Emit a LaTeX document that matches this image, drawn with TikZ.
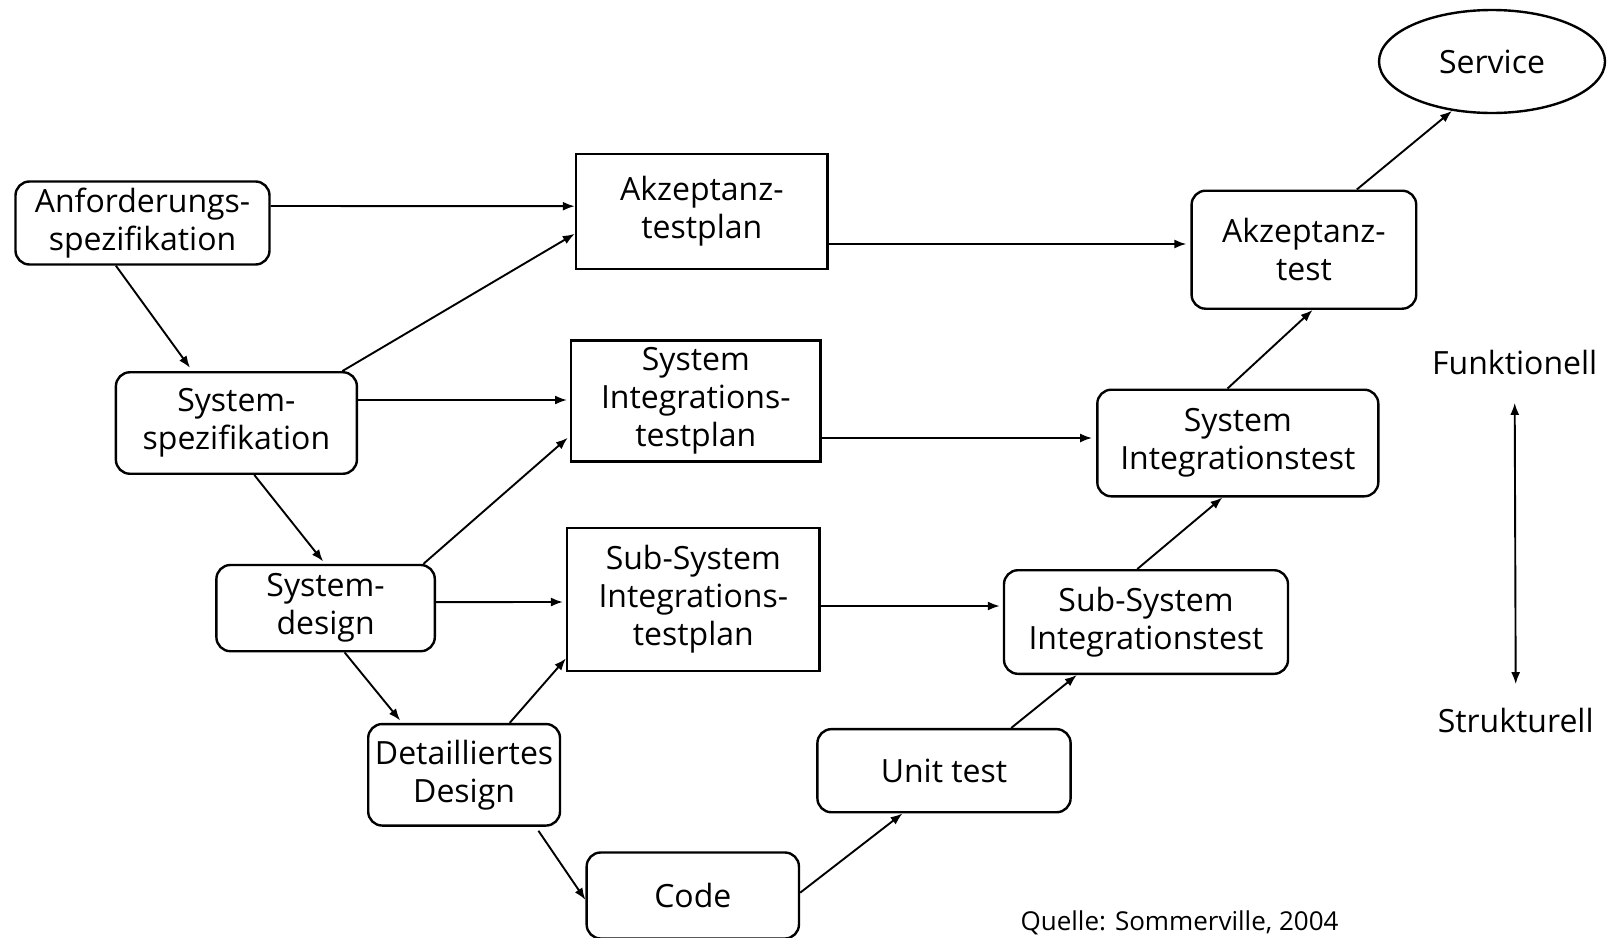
\documentclass[tikz,border=0pt]{standalone}
\usepackage{fontspec}
\setmainfont{Open Sans}
\usetikzlibrary{shapes.geometric,arrows.meta}
\begin{document}
\begin{tikzpicture}[x=1pt,y=-1pt,
  font={\fontsize{32}{38}\selectfont},
  rbox/.style={draw,line width=2.4pt,rounded corners=14pt,align=center,inner sep=0pt},
  sbox/.style={draw,line width=2.4pt,align=center,inner sep=0pt},
  arr/.style={line width=1.9pt,-{Latex[length=12pt,width=9pt]}},
  darr/.style={line width=1.9pt,{Latex[length=12pt,width=9pt]}-{Latex[length=12pt,width=9pt]}}]
\useasboundingbox (0,0) rectangle (1608,937);
% nodes
\node[rbox,minimum width=254pt,minimum height=83pt] (anf) at (142.5,223) {Anforderungs-\\spezifikation};
\node[sbox,minimum width=251.6pt,minimum height=115pt] (akzplan) at (701.8,211.2) {Akzeptanz-\\testplan};
\node[rbox,minimum width=224.6pt,minimum height=118pt] (akztest) at (1303.9,249.7) {Akzeptanz-\\test};
\node[draw,ellipse,line width=2.4pt,minimum width=226pt,minimum height=103pt,inner sep=0pt] (service) at (1492,61.5) {Service};
\node[rbox,minimum width=241pt,minimum height=101.5pt] (sysspez) at (236.4,423) {System-\\spezifikation};
\node[sbox,minimum width=249.2pt,minimum height=121pt] (sitp) at (695.8,401) {System\\Integrations-\\testplan};
\node[rbox,minimum width=281pt,minimum height=106.6pt] (sit) at (1237.8,443) {System\\Integrationstest};
\node[rbox,minimum width=218.4pt,minimum height=86.2pt] (sysdesign) at (325.6,608.1) {System-\\design};
\node[sbox,minimum width=252.3pt,minimum height=142.6pt] (ssitp) at (693.3,599.4) {Sub-System\\Integrations-\\testplan};
\node[rbox,minimum width=284pt,minimum height=103.6pt] (ssit) at (1146,622) {Sub-System\\Integrationstest};
\node[rbox,minimum width=191.8pt,minimum height=101.5pt] (detail) at (464.1,774.8) {Detailliertes\\Design};
\node[rbox,minimum width=253.2pt,minimum height=83.1pt] (unit) at (944,770.7) {Unit test};
\node[rbox,minimum width=212.3pt,minimum height=86pt] (code) at (692.8,895.5) {Code};
\node (funk) at (1514.7,362) {Funktionell};
\node (struk) at (1515.7,720) {Strukturell};
\node[font={\fontsize{26}{30}\selectfont},anchor=west] (quelle) at (1017,923) {Quelle: Sommerville, 2004};
% connectors
\draw[arr] ([yshift=17pt]anf.east) -- ([yshift=5pt]akzplan.west);
\draw[arr,shorten >=4pt] ([xshift=-26.6pt]anf.south) -- ([xshift=-44pt]sysspez.north);
\draw[arr] ([xshift=106pt]sysspez.north) -- ([yshift=-22.6pt]akzplan.west);
\draw[arr,shorten >=4pt] ([yshift=-32.8pt]akzplan.east) -- ([yshift=5.7pt]akztest.west);
\draw[arr] ([xshift=52.9pt]akztest.north) -- (service.-129);
\draw[arr,shorten >=3pt] ([yshift=23pt]sysspez.east) -- ([yshift=1pt]sitp.west);
\draw[arr,shorten >=4pt] ([yshift=-37pt]sitp.east) -- ([yshift=5pt]sit.west);
\draw[arr] ([xshift=-10.3pt]sit.north) -- ([xshift=8.7pt]akztest.south);
\draw[arr,shorten >=3pt] ([xshift=17.9pt]sysspez.south) -- ([xshift=-0.6pt]sysdesign.north);
\draw[arr,shorten >=3pt] ([xshift=97.9pt]sysdesign.north) -- ([yshift=-34.8pt]sitp.west);
\draw[arr,shorten >=3pt] ([yshift=6pt]sysdesign.east) -- ([yshift=-2.6pt]ssitp.west);
\draw[arr,shorten >=3pt] ([yshift=-6.6pt]ssitp.east) -- ([yshift=16pt]ssit.west);
\draw[arr] ([xshift=-8.7pt]ssit.north) -- ([xshift=-15.4pt]sit.south);
\draw[arr,shorten >=3pt] ([xshift=19pt]sysdesign.south) -- ([xshift=-62pt]detail.north);
\draw[arr] ([xshift=45.6pt]detail.north) -- ([yshift=-59pt]ssitp.west);
\draw[arr] ([xshift=74.3pt,yshift=-4pt]detail.south) -- ([yshift=-4.4pt]code.west);
\draw[arr] ([yshift=2.8pt]code.east) -- ([xshift=-41.5pt]unit.south);
\draw[arr] ([xshift=67.2pt]unit.north) -- ([xshift=-69.2pt]ssit.south);
\draw[darr] ([yshift=-25pt]funk.south) -- ([yshift=20pt]struk.north);
\end{tikzpicture}
\end{document}
